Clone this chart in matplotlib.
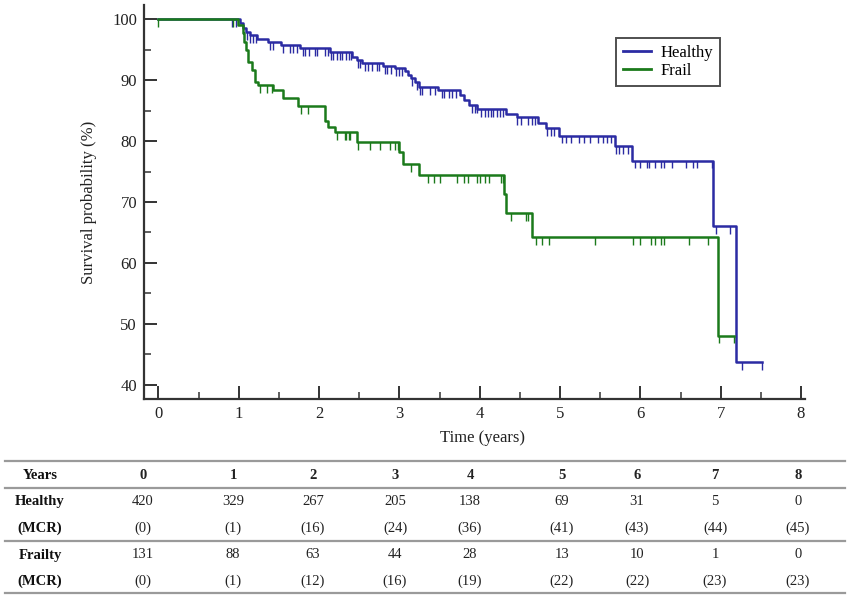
import numpy as np
import matplotlib
matplotlib.use("Agg")
import matplotlib.pyplot as plt
from matplotlib.lines import Line2D
from matplotlib.ticker import MultipleLocator

plt.rcParams['font.family'] = ['Liberation Serif', 'DejaVu Serif']

# ---------------- data ----------------
healthy_event_t = [1.01, 1.05, 1.09, 1.14, 1.23, 1.36, 1.52, 1.76, 2.13, 2.41, 2.47, 2.54,
                   2.79, 2.94, 3.07, 3.11, 3.14, 3.19, 3.25, 3.48, 3.75, 3.81, 3.87, 3.97,
                   4.33, 4.46, 4.72, 4.83, 4.99, 5.68, 5.90, 6.91, 7.19]
healthy_event_s = [99.3, 98.6, 97.9, 97.3, 96.8, 96.3, 95.7, 95.2, 94.6, 93.8, 93.3, 92.8,
                   92.3, 91.9, 91.4, 90.9, 90.3, 89.6, 88.8, 88.4, 87.5, 86.7, 85.9, 85.3,
                   84.5, 83.9, 82.9, 82.1, 80.9, 79.2, 76.8, 66.0, 43.8]
healthy_end = 7.52
healthy_censor_t = [0.91, 0.97, 1.10, 1.14, 1.18, 1.21, 1.39, 1.42, 1.55, 1.64, 1.67, 1.72,
                    1.80, 1.83, 1.88, 1.95, 1.97, 2.07, 2.11, 2.15, 2.17, 2.22, 2.26, 2.29,
                    2.33, 2.37, 2.40, 2.48, 2.51, 2.57, 2.61, 2.66, 2.72, 2.75, 2.82, 2.85,
                    2.90, 2.96, 3.00, 3.03, 3.16, 3.22, 3.26, 3.28, 3.38, 3.44, 3.53, 3.56,
                    3.62, 3.66, 3.71, 3.90, 3.94, 3.96, 4.02, 4.06, 4.10, 4.14, 4.17, 4.21,
                    4.25, 4.29, 4.47, 4.52, 4.60, 4.65, 4.69, 4.84, 4.89, 4.93, 5.02, 5.08,
                    5.14, 5.24, 5.30, 5.37, 5.47, 5.53, 5.58, 5.64, 5.70, 5.74, 5.78, 5.84,
                    5.93, 5.99, 6.08, 6.11, 6.18, 6.26, 6.30, 6.39, 6.57, 6.65, 6.71, 6.89,
                    6.94, 7.11, 7.27, 7.52]

frail_event_t = [0.99, 1.05, 1.07, 1.09, 1.11, 1.17, 1.20, 1.24, 1.43, 1.55, 1.74, 2.07,
                 2.11, 2.20, 2.47, 3.00, 3.05, 3.25, 4.30, 4.33, 4.65, 6.97]
frail_event_s = [99.0, 97.7, 96.3, 94.9, 93.0, 91.6, 89.7, 89.2, 88.4, 87.0, 85.7, 83.2,
                 82.3, 81.4, 79.9, 78.2, 76.3, 74.4, 71.3, 68.2, 64.2, 48.1]
frail_end = 7.16
frail_censor_t = [0.0, 0.93, 1.27, 1.35, 1.41, 1.78, 1.86, 2.22, 2.32, 2.34, 2.37, 2.39,
                  2.48, 2.63, 2.76, 2.88, 2.95, 2.98, 3.14, 3.35, 3.43, 3.51, 3.72, 3.80,
                  3.85, 3.97, 4.00, 4.06, 4.11, 4.27, 4.29, 4.39, 4.58, 4.60, 4.70, 4.78,
                  4.86, 5.43, 5.91, 5.99, 6.13, 6.18, 6.26, 6.29, 6.61, 6.84, 6.98, 7.16]

group_labels = ["Healthy", "Frail"]
group_colors = ["#2b2ba3", "#1b7a1b"]

table_years = [0, 1, 2, 3, 4, 5, 6, 7, 8]
healthy_at_risk = [420, 329, 267, 205, 138, 69, 31, 5, 0]
healthy_mcr = [0, 1, 16, 24, 36, 41, 43, 44, 45]
frailty_at_risk = [131, 88, 63, 44, 28, 13, 10, 1, 0]
frailty_mcr = [0, 1, 12, 16, 19, 22, 22, 23, 23]
table_row_labels = ["Years", "Healthy", "(MCR)", "Frailty", "(MCR)"]

# ---------------- figure ----------------
W, H = 852, 598
fig = plt.figure(figsize=(W / 100, H / 100), dpi=100)
fig.patch.set_facecolor("white")

ax_l, ax_r, ax_t, ax_b = 144, 805, 5, 399
ax = fig.add_axes([ax_l / W, 1 - ax_b / H, (ax_r - ax_l) / W, (ax_b - ax_t) / H])
ax.set_xlim(-0.18, 8.05)
ax.set_ylim(37.7, 102.3)


def draw_km(ax, ev_t, ev_s, end_t, cens_t, color, label):
    t = np.concatenate([[0.0], ev_t, [end_t]])
    s = np.concatenate([[100.0], ev_s, [ev_s[-1]]])
    ax.step(t, s, where="post", color=color, lw=1.8, label=label, zorder=3)
    ct = np.asarray(cens_t)
    idx = np.searchsorted(t, ct, side="right") - 1
    cs = s[np.clip(idx, 0, len(s) - 1)]
    ax.vlines(ct, cs - 1.3, cs, color=color, lw=1.0, zorder=3)


draw_km(ax, healthy_event_t, healthy_event_s, healthy_end, healthy_censor_t,
        group_colors[0], group_labels[0])
draw_km(ax, frail_event_t, frail_event_s, frail_end, frail_censor_t,
        group_colors[1], group_labels[1])

for sp in ["top", "right"]:
    ax.spines[sp].set_visible(False)
for sp in ["left", "bottom"]:
    ax.spines[sp].set_linewidth(1.6)
    ax.spines[sp].set_color("#333333")

ax.xaxis.set_major_locator(MultipleLocator(1))
ax.xaxis.set_minor_locator(MultipleLocator(0.5))
ax.set_yticks([40, 50, 60, 70, 80, 90, 100])
ax.set_yticks([45, 55, 65, 75, 85, 95], minor=True)
ax.tick_params(which="major", direction="in", length=9.5, width=1.4, color="#333333",
               labelsize=12, labelcolor="#222222")
ax.tick_params(which="minor", direction="in", length=5, width=1.1, color="#333333")
ax.tick_params(axis="y", which="major", pad=5)
ax.tick_params(axis="x", which="major", pad=5)

ax.set_ylabel("Survival probability (%)", fontsize=12, color="#222222")
ax.yaxis.set_label_coords((97 - ax_l) / (ax_r - ax_l), 0.5)
ax.set_xlabel("Time (years)", fontsize=12, color="#222222")
ax.xaxis.set_label_coords((483 - ax_l) / (ax_r - ax_l), (ax_b - 430) / (ax_b - ax_t))

leg = ax.legend(loc="upper left", bbox_to_anchor=(616 / W, 1 - 38 / H),
                bbox_transform=fig.transFigure, borderaxespad=0, fontsize=12,
                handlelength=1.7, handletextpad=0.6, borderpad=0.4, labelspacing=0.15,
                frameon=True, fancybox=False, edgecolor="#222222")
leg.get_frame().set_linewidth(1.4)
for lh in leg.get_lines():
    lh.set_linewidth(2.0)

# ---------------- table ----------------
col_x = [143, 233, 313, 395, 470, 562, 637, 715, 798]
label_x = 40
row_y = [475.5, 501.7, 528.2, 555, 581]
rule_y = [460.5, 488.3, 540.7, 592.5]

for y in rule_y:
    fig.add_artist(Line2D([5 / W, 845 / W], [1 - y / H, 1 - y / H], color="#9a9a9a",
                          lw=1.6, transform=fig.transFigure))

tfs = 10.5
rows = [table_years, healthy_at_risk, ["(%d)" % v for v in healthy_mcr],
        frailty_at_risk, ["(%d)" % v for v in frailty_mcr]]
for r, (lab, vals) in enumerate(zip(table_row_labels, rows)):
    y = 1 - row_y[r] / H
    fig.text(label_x / W, y, lab, ha="center", va="center", fontsize=tfs,
             fontweight="bold", color="#111111")
    for c, v in enumerate(vals):
        fig.text(col_x[c] / W, y, str(v), ha="center", va="center", fontsize=tfs,
                 fontweight="bold" if r == 0 else "normal", color="#222222")

fig.savefig("out.png", dpi=100)
